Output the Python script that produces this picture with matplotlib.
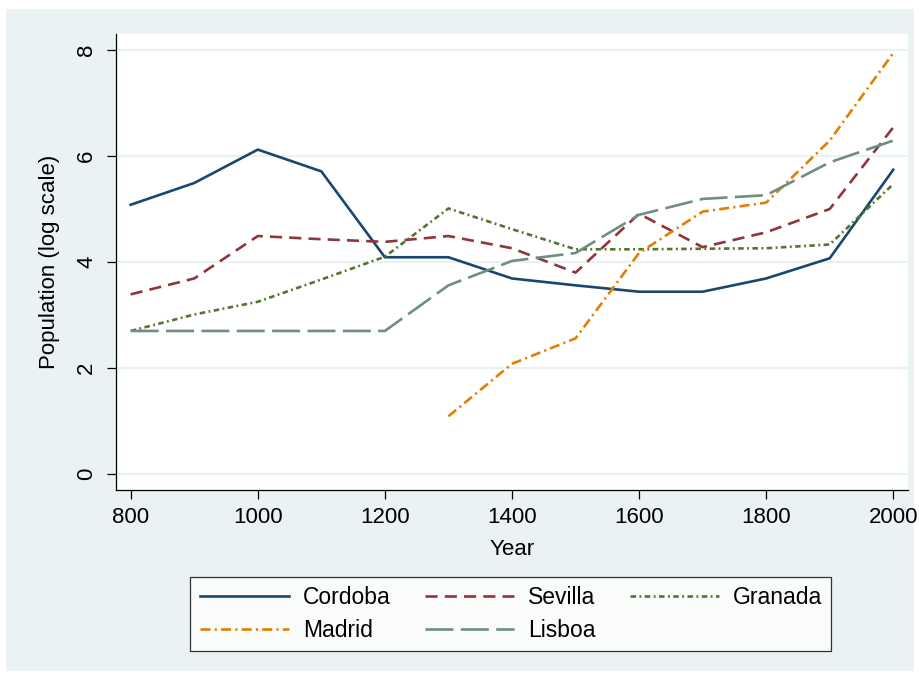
import matplotlib
matplotlib.use("Agg")
import matplotlib.pyplot as plt
from matplotlib.patches import Rectangle

plt.rcParams['font.family'] = ['Liberation Sans', 'DejaVu Sans']

years = [800, 900, 1000, 1100, 1200, 1300, 1400, 1500, 1600, 1700, 1800, 1900, 2000]
cordoba = [5.08, 5.49, 6.12, 5.71, 4.09, 4.09, 3.69, 3.56, 3.44, 3.44, 3.69, 4.07, 5.74]
sevilla = [3.39, 3.69, 4.49, 4.43, 4.38, 4.49, 4.26, 3.80, 4.91, 4.28, 4.56, 5.00, 6.54]
granada = [2.70, 3.01, 3.25, 3.67, 4.10, 5.01, 4.62, 4.24, 4.24, 4.25, 4.26, 4.33, 5.47]
madrid_years = [1300, 1400, 1500, 1600, 1700, 1800, 1900, 2000]
madrid = [1.09, 2.08, 2.56, 4.17, 4.95, 5.12, 6.29, 7.94]
lisboa = [2.70, 2.70, 2.70, 2.70, 2.70, 3.56, 4.02, 4.17, 4.89, 5.19, 5.26, 5.88, 6.29]

xticks = [800, 1000, 1200, 1400, 1600, 1800, 2000]
yticks = [0, 2, 4, 6, 8]

W, H = 920, 677
fig = plt.figure(figsize=(W / 100, H / 100), dpi=100)
fig.patch.set_facecolor('white')
bg = '#EAF2F3'
fig.patches.append(Rectangle((6 / W, 1 - 671 / H), (914 - 6) / W, (671 - 9) / H,
                             transform=fig.transFigure, facecolor=bg, edgecolor='none', zorder=-10))

left, right, top, bottom = 116, 908, 34, 489.5
ax = fig.add_axes([left / W, 1 - bottom / H, (right - left) / W, (bottom - top) / H])
ax.set_facecolor('white')
ax.set_xlim(776.9, 2023.2)
ax.set_ylim(-0.29, 8.30)

for s in ['top', 'right']:
    ax.spines[s].set_visible(False)
for s in ['left', 'bottom']:
    ax.spines[s].set_linewidth(0.9)
    ax.spines[s].set_color('black')

ax.set_yticks(yticks)
ax.set_xticks(xticks)
ax.set_yticklabels([str(v) for v in yticks], rotation=90, va='center')
ax.tick_params(axis='both', labelsize=16, length=6.5, width=0.9, colors='black')
ax.tick_params(axis='y', pad=7)
ax.tick_params(axis='x', pad=6)
ax.grid(axis='y', color=bg, linewidth=1.6)
ax.set_axisbelow(True)

lw = 1.9
h_cor, = ax.plot(years, cordoba, color='#1a476f', lw=lw, linestyle='-', label='Cordoba')
h_sev, = ax.plot(years, sevilla, color='#90353b', lw=lw, linestyle=(0, (4.6, 2.7)), label='Sevilla')
h_gra, = ax.plot(years, granada, color='#55752f', lw=lw, linestyle=(0, (2.1, 1.3, 0.7, 1.3)), label='Granada')
h_mad, = ax.plot(madrid_years, madrid, color='#e37e00', lw=lw, linestyle=(0, (3.8, 1.6, 0.8, 1.6)), label='Madrid')
h_lis, = ax.plot(years, lisboa, color='#6e8e84', lw=lw, linestyle=(0, (10.6, 2.8)), label='Lisboa')

ax.set_xlabel('Year', fontsize=16, labelpad=8)
ax.set_ylabel('Population (log scale)', fontsize=16, labelpad=12)

handles = [h_cor, h_mad, h_sev, h_lis, h_gra]
leg = ax.legend(handles=handles, labels=[h.get_label() for h in handles],
                loc='center', bbox_to_anchor=((186.7 + 835) / 2 / W, 1 - (576.7 + 651) / 2 / H),
                bbox_transform=fig.transFigure, ncol=3, fontsize=16.5,
                handlelength=3.9, handletextpad=0.6, columnspacing=1.5,
                labelspacing=0.45, borderpad=0.4, frameon=True, fancybox=False)
leg.get_frame().set_edgecolor('black')
leg.get_frame().set_linewidth(0.9)

fig.savefig('out.png', dpi=100, facecolor='white')
